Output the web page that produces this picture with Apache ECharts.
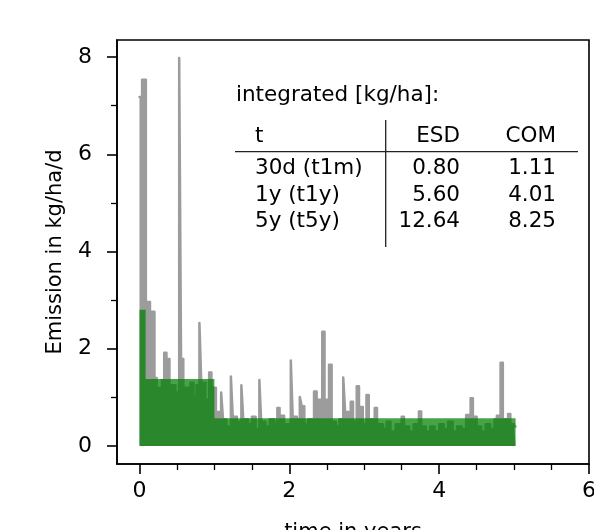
<!DOCTYPE html>
<html>
<head>
<meta charset="utf-8">
<script src="https://cdn.jsdelivr.net/npm/echarts@6/dist/echarts.min.js"></script>
<style>
html,body{margin:0;padding:0;background:#fff;}
#chart{width:594px;height:530px;}
</style>
</head>
<body>
<div id="chart"></div>
<script>
// ---- data ----
const greyT = [0.000,0.035,0.085,0.140,0.200,0.230,0.260,0.300,0.330,0.360,0.400,0.480,0.530,0.555,0.585,0.650,0.680,0.720,0.760,0.800,0.825,0.880,0.930,0.960,
  1.020,1.090,1.115,1.160,1.220,1.245,1.300,1.360,1.385,1.450,1.500,1.550,1.600,1.625,1.680,1.740,1.800,1.840,1.870,1.930,
  2.020,2.045,2.100,2.140,2.165,2.200,2.250,2.300,2.330,2.365,2.440,2.470,2.530,2.565,2.620,2.670,2.720,2.745,2.820,2.850,2.900,2.930,2.980,
  3.030,3.060,3.140,3.170,3.250,3.300,3.350,3.420,3.500,3.530,3.600,3.660,3.730,3.760,3.820,3.880,3.940,
  4.000,4.060,4.120,4.180,4.240,4.300,4.360,4.420,4.450,4.500,4.560,4.620,4.680,4.740,4.770,4.820,4.850,4.920,4.950,5.000,5.020];
const greyV = [7.18,7.53,2.96,2.76,1.40,1.10,1.20,1.35,1.92,1.79,1.25,1.10,7.98,1.79,1.20,0.85,1.30,1.00,1.25,2.53,1.30,0.95,1.51,1.20,
  0.70,1.10,0.55,0.40,1.43,0.60,0.50,1.25,0.55,0.45,0.60,0.35,1.36,0.50,0.40,0.55,0.45,0.78,0.62,0.45,
  1.76,0.60,0.55,1.01,0.82,0.45,0.55,0.40,1.12,0.95,2.35,0.95,1.67,0.50,0.40,0.55,1.41,0.70,0.91,0.50,1.23,0.80,0.45,
  1.05,0.55,0.78,0.45,0.35,0.50,0.30,0.45,0.60,0.40,0.30,0.45,0.71,0.40,0.30,0.40,0.30,
  0.45,0.35,0.50,0.30,0.40,0.35,0.64,0.98,0.60,0.40,0.30,0.45,0.35,0.55,0.62,1.71,0.55,0.66,0.45,0.40,0.40];
const greenT = [0.000,0.082,1.000,5.020];
const greenV = [2.80,1.38,0.57,0.57];
const xMajorTicks = [0,2,4,6];
const xMinorTicks = [0.5,1,1.5,2.5,3,3.5,4.5,5,5.5];
const yMajorTicks = [0,2,4,6,8];
const yMinorTicks = [1,3,5,7];
const tableTitle = 'integrated [kg/ha]:';
const tableHeader = ['t','ESD','COM'];
const tableRows = ['30d (t1m)','1y (t1y)','5y (t5y)'];
const esdVals = ['0.80','5.60','12.64'];
const comVals = ['1.11','4.01','8.25'];

// ---- chart ----
const FONT = 'DejaVu Sans';
const chart = echarts.init(document.getElementById('chart'), null, {renderer:'canvas'});
const X_MIN = -0.3, X_MAX = 6.0, Y_MIN = -0.37, Y_MAX = 8.35;

const baseX = {type:'value', min:X_MIN, max:X_MAX, splitLine:{show:false}};
const baseY = {type:'value', min:Y_MIN, max:Y_MAX, splitLine:{show:false}};

const graphics = [];
const TX = {title:236, rowL:255, esdR:460, comR:556};
const TY = {title:95, header:136, rows:[168,195,221.5]};
const tStyle = (text, x, y, align) => ({type:'text', style:{text, x, y, textAlign:align, textVerticalAlign:'middle', font:'21.5px "'+FONT+'"', fill:'#000'}, z:10});
graphics.push(tStyle(tableTitle, TX.title, TY.title, 'left'));
graphics.push(tStyle(tableHeader[0], TX.rowL, TY.header, 'left'));
graphics.push(tStyle(tableHeader[1], TX.esdR, TY.header, 'right'));
graphics.push(tStyle(tableHeader[2], TX.comR, TY.header, 'right'));
tableRows.forEach((r,i)=>{
  graphics.push(tStyle(r, TX.rowL, TY.rows[i], 'left'));
  graphics.push(tStyle(esdVals[i], TX.esdR, TY.rows[i], 'right'));
  graphics.push(tStyle(comVals[i], TX.comR, TY.rows[i], 'right'));
});
graphics.push({type:'line', shape:{x1:235, y1:151.7, x2:578, y2:151.7}, style:{stroke:'#222', lineWidth:1.3}, z:10});
graphics.push({type:'line', shape:{x1:385.7, y1:120, x2:385.7, y2:247}, style:{stroke:'#222', lineWidth:1.3}, z:10});

chart.setOption({
  animation:false,
  backgroundColor:'#fff',
  grid:{left:117, top:40, right:5, bottom:66, outerBoundsMode:'none', containLabel:false, show:true, borderColor:'#000', borderWidth:1.6, backgroundColor:'transparent'},
  xAxis:[
    Object.assign({}, baseX, {
      position:'bottom',
      name:'time in years', nameLocation:'middle', nameGap:58,
      nameTextStyle:{fontFamily:FONT, fontSize:21, color:'#000'},
      axisLine:{show:true, onZero:false, lineStyle:{color:'#000', width:1.6}},
      axisTick:{show:true, length:10, customValues:xMajorTicks, lineStyle:{color:'#000', width:1.6}},
      axisLabel:{show:true, customValues:xMajorTicks, margin:16, fontFamily:FONT, fontSize:22, color:'#000', showMinLabel:true, showMaxLabel:true}
    }),
    Object.assign({}, baseX, {
      position:'bottom',
      axisLine:{show:false, onZero:false},
      axisTick:{show:true, length:6, customValues:xMinorTicks, lineStyle:{color:'#000', width:1.3}},
      axisLabel:{show:false}
    })
  ],
  yAxis:[
    Object.assign({}, baseY, {
      position:'left',
      name:'Emission in kg/ha/d', nameLocation:'middle', nameGap:51,
      nameTextStyle:{fontFamily:FONT, fontSize:21, color:'#000'},
      axisLine:{show:true, onZero:false, lineStyle:{color:'#000', width:1.6}},
      axisTick:{show:true, length:10, customValues:yMajorTicks, lineStyle:{color:'#000', width:1.6}},
      axisLabel:{show:true, customValues:yMajorTicks, margin:25, fontFamily:FONT, fontSize:22, color:'#000'}
    }),
    Object.assign({}, baseY, {
      position:'left',
      axisLine:{show:false, onZero:false},
      axisTick:{show:true, length:6, customValues:yMinorTicks, lineStyle:{color:'#000', width:1.3}},
      axisLabel:{show:false}
    })
  ],
  series:[
    {
      type:'line', step:'end', xAxisIndex:0, yAxisIndex:0,
      data: greyT.map((t,i)=>[t, greyV[i]]),
      symbol:'none', silent:true,
      lineStyle:{color:'#9c9c9c', width:2.5, cap:'round', join:'round'},
      areaStyle:{color:'#9c9c9c', opacity:1, origin:'auto'},
      z:2
    },
    {
      type:'line', step:'end', xAxisIndex:0, yAxisIndex:0,
      data: greenT.map((t,i)=>[t, greenV[i]]),
      symbol:'none', silent:true,
      lineStyle:{width:0},
      areaStyle:{color:'#008000', opacity:0.72, origin:'auto'},
      z:3
    }
  ],
  graphic: graphics
});
</script>
</body>
</html>
